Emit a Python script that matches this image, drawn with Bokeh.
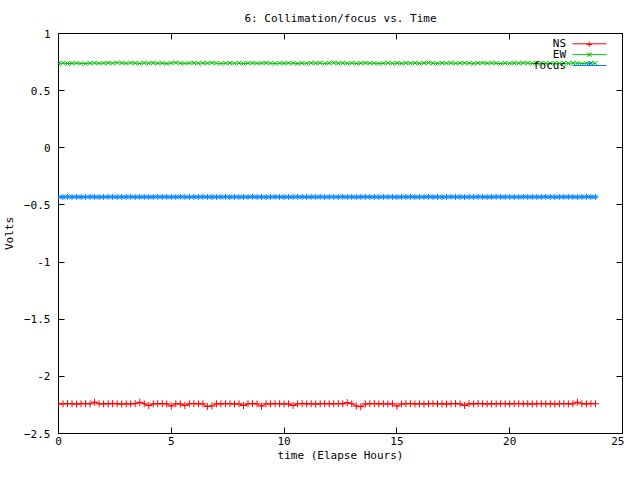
from bokeh.plotting import figure
from bokeh.models import LinearAxis, Label, Arrow, Range1d, FixedTicker
from bokeh.embed import file_html
from bokeh.resources import INLINE

title = "6: Collimation/focus vs. Time"
x_label = "time (Elapse Hours)"
y_label = "Volts"
x_ticks = [0, 5, 10, 15, 20, 25]
y_ticks = [-2.5, -2, -1.5, -1, -0.5, 0, 0.5, 1]
series_names = ["NS", "EW", "focus"]

time_h = [
    0.0, 0.2, 0.4, 0.6, 0.8, 1.0, 1.2, 1.4, 1.6, 1.8,
    2.0, 2.2, 2.4, 2.6, 2.8, 3.0, 3.2, 3.4, 3.6, 3.8,
    4.0, 4.2, 4.4, 4.6, 4.8, 5.0, 5.2, 5.4, 5.6, 5.8,
    6.0, 6.2, 6.4, 6.6, 6.8, 7.0, 7.2, 7.4, 7.6, 7.8,
    8.0, 8.2, 8.4, 8.6, 8.8, 9.0, 9.2, 9.4, 9.6, 9.8,
    10.0, 10.2, 10.4, 10.6, 10.8, 11.0, 11.2, 11.4, 11.6, 11.8,
    12.0, 12.2, 12.4, 12.6, 12.8, 13.0, 13.2, 13.4, 13.6, 13.8,
    14.0, 14.2, 14.4, 14.6, 14.8, 15.0, 15.2, 15.4, 15.6, 15.8,
    16.0, 16.2, 16.4, 16.6, 16.8, 17.0, 17.2, 17.4, 17.6, 17.8,
    18.0, 18.2, 18.4, 18.6, 18.8, 19.0, 19.2, 19.4, 19.6, 19.8,
    20.0, 20.2, 20.4, 20.6, 20.8, 21.0, 21.2, 21.4, 21.6, 21.8,
    22.0, 22.2, 22.4, 22.6, 22.8, 23.0, 23.2, 23.4, 23.6, 23.8,
]

ns_volts = [
    -2.240, -2.241, -2.239, -2.240, -2.242, -2.240, -2.239, -2.241, -2.226, -2.240,
    -2.241, -2.240, -2.239, -2.240, -2.242, -2.240, -2.241, -2.239, -2.227, -2.240,
    -2.256, -2.241, -2.240, -2.239, -2.241, -2.260, -2.240, -2.241, -2.255, -2.240,
    -2.239, -2.241, -2.240, -2.264, -2.259, -2.240, -2.241, -2.239, -2.240, -2.242,
    -2.240, -2.255, -2.240, -2.239, -2.241, -2.260, -2.240, -2.241, -2.239, -2.240,
    -2.242, -2.240, -2.255, -2.240, -2.239, -2.241, -2.240, -2.242, -2.240, -2.239,
    -2.241, -2.240, -2.239, -2.241, -2.230, -2.240, -2.260, -2.265, -2.241, -2.240,
    -2.239, -2.241, -2.240, -2.242, -2.240, -2.260, -2.241, -2.240, -2.239, -2.241,
    -2.240, -2.242, -2.240, -2.239, -2.241, -2.240, -2.242, -2.240, -2.239, -2.241,
    -2.255, -2.240, -2.241, -2.239, -2.240, -2.242, -2.240, -2.241, -2.239, -2.240,
    -2.241, -2.240, -2.239, -2.241, -2.240, -2.242, -2.240, -2.239, -2.241, -2.240,
    -2.242, -2.240, -2.239, -2.241, -2.240, -2.226, -2.240, -2.241, -2.239, -2.240,
]

ew_volts = [
    0.738, 0.740, 0.737, 0.739, 0.741, 0.738, 0.736, 0.740, 0.742, 0.739,
    0.741, 0.743, 0.740, 0.745, 0.742, 0.739, 0.744, 0.741, 0.738, 0.742,
    0.740, 0.743, 0.739, 0.741, 0.737, 0.742, 0.745, 0.740, 0.738, 0.741,
    0.743, 0.739, 0.742, 0.740, 0.744, 0.741, 0.738, 0.740, 0.742, 0.739,
    0.741, 0.737, 0.740, 0.742, 0.739, 0.741, 0.743, 0.740, 0.738, 0.741,
    0.739, 0.742, 0.740, 0.737, 0.741, 0.739, 0.743, 0.740, 0.742, 0.738,
    0.741, 0.744, 0.740, 0.742, 0.739, 0.741, 0.738, 0.740, 0.743, 0.739,
    0.741, 0.737, 0.740, 0.742, 0.739, 0.741, 0.738, 0.743, 0.740, 0.742,
    0.739, 0.741, 0.744, 0.740, 0.738, 0.742, 0.740, 0.743, 0.739, 0.741,
    0.742, 0.740, 0.738, 0.741, 0.743, 0.739, 0.742, 0.740, 0.737, 0.741,
    0.739, 0.742, 0.740, 0.743, 0.741, 0.738, 0.740, 0.742, 0.739, 0.741,
    0.740, 0.738, 0.741, 0.739, 0.742, 0.740, 0.737, 0.739, 0.741, 0.740,
]

focus_volts = [
    -0.430, -0.431, -0.429, -0.430, -0.430, -0.431, -0.430, -0.429, -0.430, -0.431,
    -0.430, -0.429, -0.430, -0.431, -0.430, -0.430, -0.429, -0.431, -0.430, -0.430,
    -0.431, -0.430, -0.429, -0.430, -0.430, -0.431, -0.430, -0.429, -0.430, -0.431,
    -0.430, -0.430, -0.429, -0.430, -0.431, -0.430, -0.430, -0.429, -0.431, -0.430,
    -0.430, -0.431, -0.430, -0.429, -0.430, -0.430, -0.431, -0.430, -0.429, -0.430,
    -0.431, -0.430, -0.430, -0.429, -0.430, -0.431, -0.430, -0.430, -0.429, -0.431,
    -0.430, -0.430, -0.431, -0.429, -0.430, -0.430, -0.431, -0.430, -0.429, -0.430,
    -0.430, -0.431, -0.430, -0.429, -0.430, -0.431, -0.430, -0.430, -0.429, -0.430,
    -0.431, -0.430, -0.429, -0.430, -0.430, -0.431, -0.430, -0.429, -0.430, -0.430,
    -0.431, -0.430, -0.430, -0.429, -0.430, -0.431, -0.430, -0.429, -0.430, -0.430,
    -0.430, -0.431, -0.430, -0.429, -0.430, -0.430, -0.431, -0.430, -0.429, -0.430,
    -0.431, -0.430, -0.430, -0.429, -0.430, -0.431, -0.430, -0.429, -0.430, -0.430,
]

FONT = "DejaVu Sans Mono"
FS = "11px"
colors = ["#ff0000", "#00c000", "#0080ff"]
markers = ["cross", "x", "asterisk"]
marker_sizes = [7, 6, 6]
marker_text = ["+", "\u00d7", "*"]

p = figure(width=624, height=464, x_range=Range1d(0, 25), y_range=Range1d(-2.5, 1),
           output_backend="svg", toolbar_location=None,
           min_border_left=55, min_border_right=2, min_border_top=32, min_border_bottom=26)

p.title.text = title
p.title.align = "center"
p.title.text_font = FONT
p.title.text_font_size = FS
p.title.text_font_style = "normal"
p.title.text_color = "black"
p.title.standoff = 18

p.background_fill_color = "white"
p.border_fill_color = "white"
p.outline_line_color = "black"
p.outline_line_width = 1
p.grid.visible = False

for ax in (p.xaxis[0], p.yaxis[0]):
    ax.axis_line_color = None
    ax.major_tick_in = 6
    ax.major_tick_out = 0
    ax.minor_tick_line_color = None
    ax.major_tick_line_color = "black"
    ax.major_label_text_font = FONT
    ax.major_label_text_font_size = FS
    ax.major_label_text_color = "black"
    ax.axis_label_text_font = FONT
    ax.axis_label_text_font_size = FS
    ax.axis_label_text_font_style = "normal"
    ax.axis_label_text_color = "black"

p.xaxis[0].ticker = FixedTicker(ticks=x_ticks)
p.yaxis[0].ticker = FixedTicker(ticks=y_ticks)
p.yaxis[0].major_label_overrides = {1: "1", 0: "0", -1: "-1", -2: "-2"}
p.xaxis[0].axis_label = x_label
p.yaxis[0].axis_label = y_label
p.xaxis[0].major_label_standoff = 3
p.yaxis[0].major_label_standoff = 8
p.xaxis[0].axis_label_standoff = 1

top = LinearAxis(ticker=FixedTicker(ticks=x_ticks), axis_line_color=None, major_tick_in=6,
                 major_tick_out=0, minor_tick_line_color=None, major_label_text_font_size="1px",
                 major_label_text_color=None, major_label_standoff=0)
right = LinearAxis(ticker=FixedTicker(ticks=y_ticks), axis_line_color=None, major_tick_in=6,
                   major_tick_out=0, minor_tick_line_color=None, major_label_text_font_size="1px",
                   major_label_text_color=None, major_label_standoff=0)
p.add_layout(top, "above")
p.add_layout(right, "right")

for vals, c, m, s in zip([ns_volts, ew_volts, focus_volts], colors, markers, marker_sizes):
    p.line(time_h, vals, line_color=c, line_width=1)
    p.scatter(time_h, vals, marker=m, size=s, line_color=c, line_width=1)

# legend (gnuplot style: label then sample)
leg_y = [0.91, 0.815, 0.72]
for name, c, mt, y in zip(series_names, colors, marker_text, leg_y):
    p.add_layout(Label(x=22.5, y=y, text=name, text_align="right", text_baseline="middle",
                       text_font=FONT, text_font_size=FS, text_color="black"))
    p.add_layout(Arrow(end=None, x_start=22.78, y_start=y, x_end=24.29, y_end=y,
                       line_color=c, line_width=1))
    p.add_layout(Label(x=23.53, y=y, text=mt, text_align="center", text_baseline="middle",
                       text_font=FONT, text_font_size=FS, text_color=c))

open("out.html", "w").write(file_html(p, INLINE))
